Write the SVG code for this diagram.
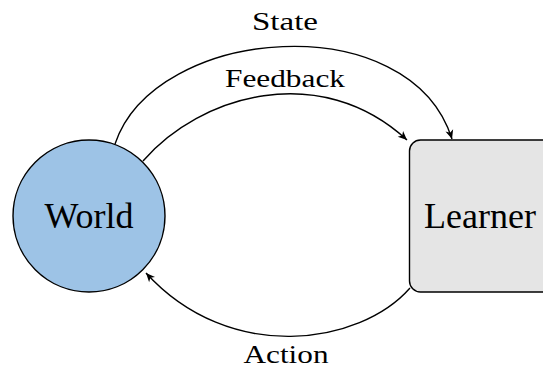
<svg xmlns="http://www.w3.org/2000/svg" width="543" height="369" viewBox="0 0 543 369">
<style>
text{font-family:'Liberation Serif','DejaVu Serif',serif;fill:#000}
.node{font-size:36px}
.edge{font-size:25px}
.conn path{fill:none;stroke:#000;stroke-width:1.4}
</style>
<defs>
<marker id="arr" viewBox="-10 -5 12 10" refX="0" refY="0" markerWidth="12" markerHeight="10" markerUnits="userSpaceOnUse" orient="auto">
<path d="M0,0 L-9,-4 L-6.5,0 L-9,4 Z" fill="#000"/>
</marker>
</defs>
<rect width="543" height="369" fill="#fff"/>
<g id="world">
<circle cx="89" cy="216" r="76" fill="#9dc3e6" stroke="#000" stroke-width="1.4"/>
<text class="node" x="89" y="228" text-anchor="middle" font-family="Liberation Serif, serif">World</text>
</g>
<g id="learner">
<rect x="409.5" y="140" width="150" height="152" rx="11" fill="#e5e5e5" stroke="#000" stroke-width="1.4"/>
<text class="node" x="480" y="228" text-anchor="middle" font-family="Liberation Serif, serif">Learner</text>
</g>
<g class="conn" id="connectors">
<path d="M115,144 C155,25 410,5 452,139" marker-end="url(#arr)"/>
<path d="M143,161 C200,95 320,60 407,140" marker-end="url(#arr)"/>
<path d="M410,288 C360,345 230,365 146,273" marker-end="url(#arr)"/>
</g>
<g id="labels">
<text class="edge" x="285" y="30" text-anchor="middle" textLength="66" lengthAdjust="spacingAndGlyphs">State</text>
<text class="edge" x="285" y="87" text-anchor="middle" textLength="120" lengthAdjust="spacingAndGlyphs">Feedback</text>
<text class="edge" x="286" y="363" text-anchor="middle" textLength="85" lengthAdjust="spacingAndGlyphs">Action</text>
</g>
</svg>
